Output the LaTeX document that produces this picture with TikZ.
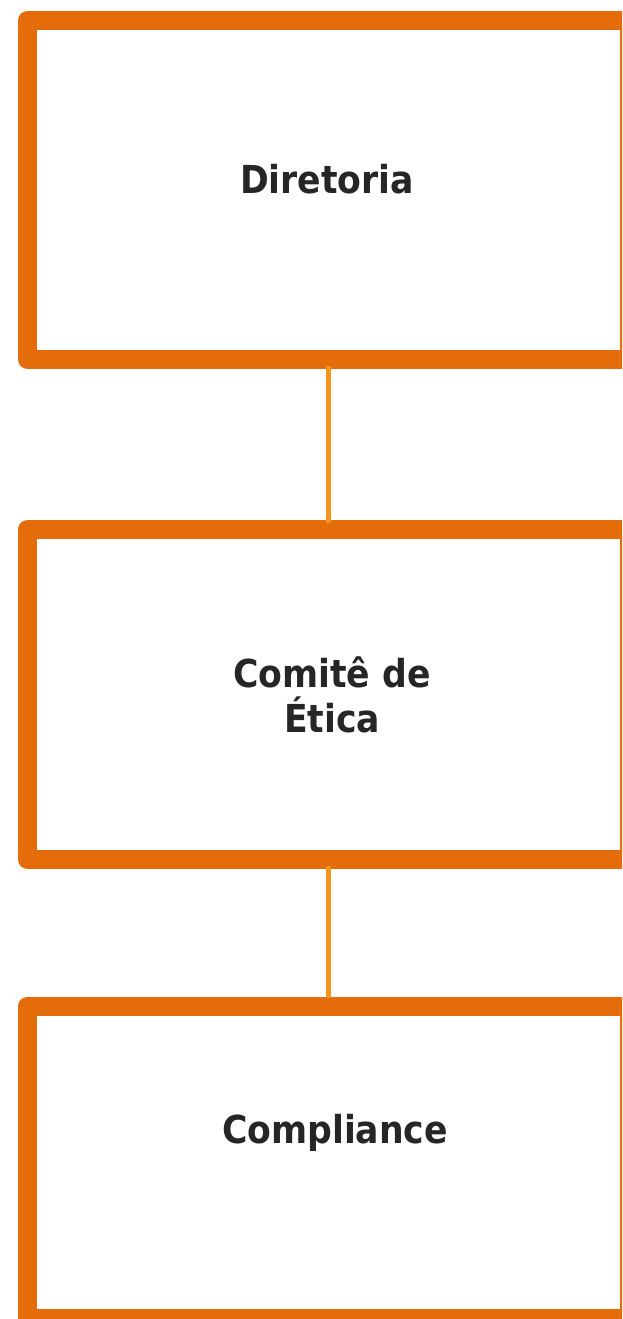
\documentclass[tikz,border=0pt]{standalone}
\usepackage{fontspec}
\setmainfont{DejaVu Sans Condensed}
\usetikzlibrary{positioning}
\definecolor{boxorange}{HTML}{E46C0A}
\definecolor{lineorange}{HTML}{F7941D}
\definecolor{txtgray}{HTML}{262626}

\begin{document}
\begin{tikzpicture}[x=1pt,y=-1pt,
        orgbox/.style={draw=boxorange,line width=19pt,line join=round,minimum width=602pt},
        orglabel/.style={text=txtgray,font=\fontsize{38.5}{45}\selectfont\bfseries,align=center},
        link/.style={draw=lineorange,line width=5pt}]
        \clip (0,0) rectangle (622,1319);
        \node[orgbox,minimum height=339pt] (dir) at (328.5,190) {};
        \node[orgbox,minimum height=330pt] (com) at (328.5,694.5) {};
        \node[orgbox,minimum height=312.5pt] (cpl) at (328.5,1162.25) {};
        \draw[link] ([yshift=3pt]dir.south) -- ([yshift=-3pt]com.north);
        \draw[link] ([yshift=3pt]com.south) -- ([yshift=-1pt]cpl.north);
        \node[orglabel,anchor=base] (dirtxt) at (327,193) {Diretoria};
        \node[orglabel,anchor=base] (comtxt) at (332,732) {Comitê de\\Ética};
        \node[orglabel,anchor=base] (cpltxt) at (335,1143) {Compliance};
    \end{tikzpicture}
\end{document}
